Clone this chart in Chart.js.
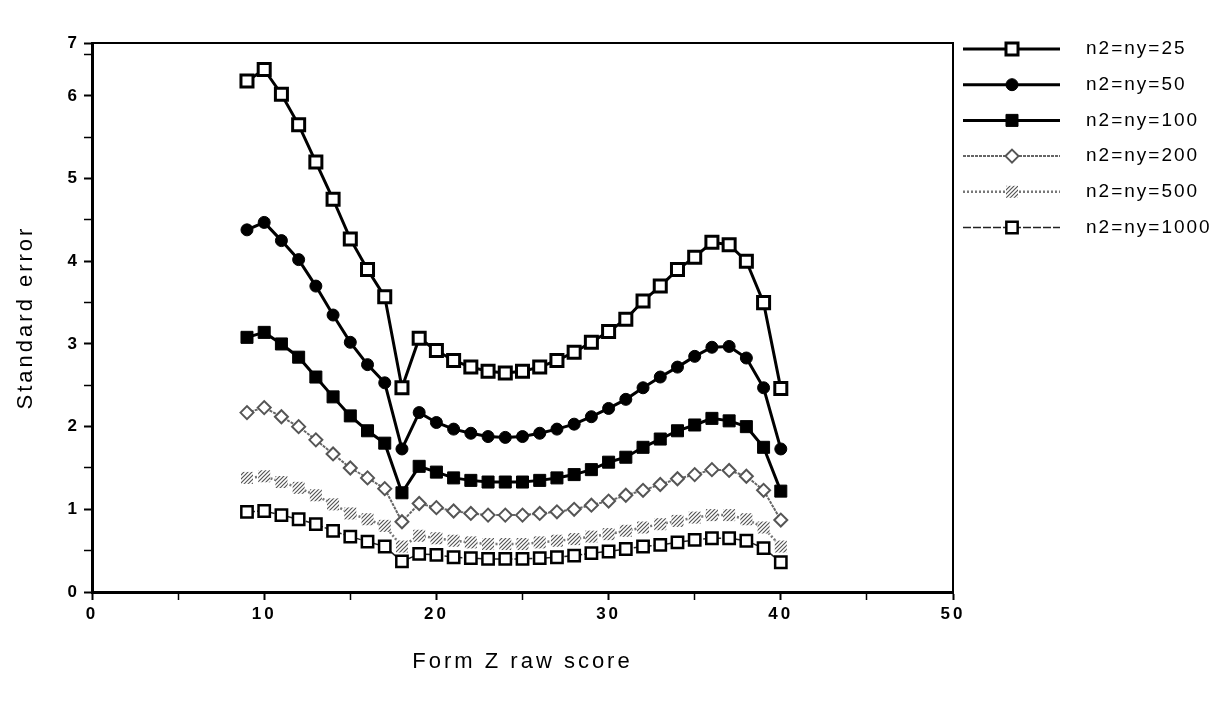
<!DOCTYPE html>
<html>
<head>
<meta charset="utf-8">
<script src="https://cdn.jsdelivr.net/npm/chart.js@4/dist/chart.umd.min.js"></script>
<style>
  body { margin: 0; background: #fff; }
  #wrap { width: 1221px; height: 707px; }
</style>
</head>
<body>
<div id="wrap"><canvas id="seChart" width="1221" height="707"></canvas></div>
<script>
// raw scores on form Z
const rawScores = [9, 10, 11, 12, 13, 14, 15, 16, 17, 18, 19, 20, 21, 22, 23, 24,
                   25, 26, 27, 28, 29, 30, 31, 32, 33, 34, 35, 36, 37, 38, 39, 40];

const seriesNames = ['n2=ny=25', 'n2=ny=50', 'n2=ny=100', 'n2=ny=200', 'n2=ny=500', 'n2=ny=1000'];

// standard error for each sample size
const se25 = [6.18, 6.32, 6.02, 5.65, 5.20, 4.75, 4.27, 3.90, 3.57, 2.47, 3.07, 2.92, 2.80, 2.72, 2.67, 2.65,
              2.67, 2.72, 2.80, 2.90, 3.02, 3.15, 3.30, 3.52, 3.70, 3.90, 4.05, 4.23, 4.20, 4.00, 3.50, 2.46];
const se50 = [4.38, 4.47, 4.25, 4.02, 3.70, 3.35, 3.02, 2.75, 2.53, 1.73, 2.17, 2.05, 1.97, 1.92, 1.88, 1.87,
              1.88, 1.92, 1.97, 2.03, 2.12, 2.22, 2.33, 2.47, 2.60, 2.72, 2.85, 2.96, 2.97, 2.83, 2.47, 1.73];
const se100 = [3.08, 3.14, 3.00, 2.84, 2.60, 2.36, 2.13, 1.95, 1.80, 1.20, 1.52, 1.45, 1.38, 1.35, 1.33, 1.33,
               1.33, 1.35, 1.38, 1.42, 1.48, 1.57, 1.63, 1.75, 1.85, 1.95, 2.02, 2.10, 2.07, 2.00, 1.75, 1.22];
const se200 = [2.17, 2.23, 2.12, 2.00, 1.84, 1.67, 1.50, 1.38, 1.25, 0.85, 1.07, 1.02, 0.98, 0.95, 0.93, 0.93,
               0.93, 0.95, 0.97, 1.00, 1.05, 1.10, 1.17, 1.23, 1.30, 1.37, 1.42, 1.48, 1.47, 1.40, 1.23, 0.87];
const se500 = [1.38, 1.40, 1.33, 1.26, 1.17, 1.06, 0.95, 0.88, 0.80, 0.55, 0.68, 0.65, 0.62, 0.60, 0.58, 0.58,
               0.58, 0.60, 0.62, 0.64, 0.67, 0.70, 0.74, 0.78, 0.82, 0.86, 0.90, 0.93, 0.93, 0.88, 0.78, 0.55];
const se1000 = [0.97, 0.98, 0.93, 0.88, 0.82, 0.74, 0.67, 0.61, 0.55, 0.37, 0.46, 0.45, 0.42, 0.41, 0.40, 0.40,
                0.40, 0.41, 0.42, 0.44, 0.47, 0.49, 0.52, 0.55, 0.57, 0.60, 0.63, 0.65, 0.65, 0.62, 0.53, 0.36];

// y axis: ticks every 0.5, labels on whole numbers; the frame stops a bit under 7
// but the printout still writes "7" at its top edge
const yTicks = [0, 0.5, 1, 1.5, 2, 2.5, 3, 3.5, 4, 4.5, 5, 5.5, 6, 6.5];
const yLabels = ['0', '1', '2', '3', '4', '5', '6'];
const yTop = 6.64;
const yTopLabel = '7';

// hatched grey fill for the n=500 markers
function hatch() {
    const c = document.createElement('canvas');
    c.width = 4; c.height = 4;
    const g = c.getContext('2d');
    g.fillStyle = '#fff';
    g.fillRect(0, 0, 4, 4);
    g.strokeStyle = '#555';
    g.lineWidth = 1.2;
    g.beginPath();
    g.moveTo(0, 4); g.lineTo(4, 0);
    g.moveTo(-1, 1); g.lineTo(1, -1);
    g.moveTo(3, 5); g.lineTo(5, 3);
    g.stroke();
    return g.createPattern(c, 'repeat');
}
const hatchFill = hatch();

function toPoints(vals) {
    return vals.map((v, i) => ({ x: rawScores[i], y: v }));
}

const datasets = [
    { label: seriesNames[0], data: toPoints(se25), borderColor: '#000', borderWidth: 3,
      pointStyle: 'rect', pointRadius: 8.5, pointBackgroundColor: '#fff', pointBorderColor: '#000', pointBorderWidth: 3 },
    { label: seriesNames[1], data: toPoints(se50), borderColor: '#000', borderWidth: 3,
      pointStyle: 'circle', pointRadius: 6, pointBackgroundColor: '#000', pointBorderColor: '#000', pointBorderWidth: 1 },
    { label: seriesNames[2], data: toPoints(se100), borderColor: '#000', borderWidth: 3,
      pointStyle: 'rect', pointRadius: 8.5, pointBackgroundColor: '#000', pointBorderColor: '#000', pointBorderWidth: 1 },
    { label: seriesNames[3], data: toPoints(se200), borderColor: '#666', borderWidth: 2, borderDash: [3, 1],
      pointStyle: 'rectRot', pointRadius: 6.5, pointBackgroundColor: '#fff', pointBorderColor: '#555', pointBorderWidth: 2 },
    { label: seriesNames[4], data: toPoints(se500), borderColor: '#777', borderWidth: 2.5, borderDash: [2, 2],
      pointStyle: 'rect', pointRadius: 8.5, pointBackgroundColor: hatchFill, pointBorderColor: 'rgba(0,0,0,0)', pointBorderWidth: 0 },
    { label: seriesNames[5], data: toPoints(se1000), borderColor: '#222', borderWidth: 1.5, borderDash: [8, 2],
      pointStyle: 'rect', pointRadius: 8, pointBackgroundColor: '#fff', pointBorderColor: '#000', pointBorderWidth: 2.5 }
];

const tickFont = { family: '"Liberation Sans", Arial, sans-serif', size: 17, weight: 'bold' };
const titleFont = { family: '"Liberation Sans", Arial, sans-serif', size: 22 };

// spacing between letters, like the old printout
const spacing = {
    id: 'spacing',
    beforeDraw(chart) { chart.ctx.letterSpacing = '3px'; }
};

// frame on top and right side
const frame = {
    id: 'frame',
    afterDatasetsDraw(chart) {
        const { ctx, chartArea: a } = chart;
        ctx.save();
        ctx.strokeStyle = '#000';
        ctx.lineWidth = 2;
        ctx.beginPath();
        ctx.moveTo(a.left, a.top);
        ctx.lineTo(a.right, a.top);
        ctx.lineTo(a.right, a.bottom);
        ctx.stroke();
        ctx.restore();
    }
};

function marker(ctx, ds, x, y) {
    const r = ds.pointRadius;
    ctx.fillStyle = ds.pointBackgroundColor;
    ctx.strokeStyle = ds.pointBorderColor;
    ctx.lineWidth = ds.pointBorderWidth;
    ctx.setLineDash([]);
    ctx.beginPath();
    if (ds.pointStyle === 'circle') {
        ctx.arc(x, y, r, 0, Math.PI * 2);
    } else if (ds.pointStyle === 'rectRot') {
        ctx.moveTo(x, y - r); ctx.lineTo(x + r, y); ctx.lineTo(x, y + r); ctx.lineTo(x - r, y); ctx.closePath();
    } else {
        const s = r * Math.SQRT1_2;
        ctx.rect(x - s, y - s, 2 * s, 2 * s);
    }
    ctx.fill();
    if (ds.pointBorderWidth > 0) ctx.stroke();
}

// legend on the right: line sample with marker, then the name
const sideLegend = {
    id: 'sideLegend',
    afterDraw(chart) {
        const ctx = chart.ctx;
        ctx.save();
        chart.data.datasets.forEach((ds, i) => {
            const y = 49 + i * 35.7;
            ctx.strokeStyle = ds.borderColor;
            ctx.lineWidth = ds.borderWidth;
            ctx.setLineDash(ds.borderDash || []);
            ctx.beginPath();
            ctx.moveTo(963, y);
            ctx.lineTo(1060, y);
            ctx.stroke();
            marker(ctx, ds, 1012, y);
            ctx.fillStyle = '#000';
            ctx.letterSpacing = '2px';
            ctx.font = '19px "Liberation Sans", Arial, sans-serif';
            ctx.textBaseline = 'middle';
            ctx.textAlign = 'left';
            ctx.fillText(ds.label, 1086, y);
        });
        ctx.restore();
    }
};

new Chart(document.getElementById('seChart'), {
    type: 'line',
    data: { datasets: datasets },
    options: {
        responsive: false,
        animation: false,
        layout: { padding: { top: 43, right: 268, left: 0, bottom: 0 } },
        plugins: { legend: { display: false }, tooltip: { enabled: false } },
        scales: {
            x: {
                type: 'linear',
                min: 0, max: 50,
                afterFit: s => { s.height = 115; },
                ticks: {
                    stepSize: 5,
                    color: '#000',
                    font: tickFont,
                    padding: 4,
                    maxRotation: 0,
                    callback: v => (v % 10 === 0 ? String(v) : '')
                },
                grid: { drawOnChartArea: false, color: '#000', tickLength: 8,
                        tickWidth: c => (c.tick && c.tick.value % 10 === 0 ? 2 : 1.5) },
                border: { display: true, color: '#000', width: 3 },
                title: { display: true, text: 'Form Z raw score', color: '#000', font: titleFont,
                         padding: { top: 0, bottom: 32 } }
            },
            y: {
                min: 0, max: yTop,
                afterFit: s => { s.width = 92; },
                afterBuildTicks: s => { s.ticks = yTicks.concat([yTop]).map(v => ({ value: v })); },
                ticks: {
                    color: '#000',
                    font: tickFont,
                    padding: 4,
                    callback: v => (v === yTop ? yTopLabel : (Number.isInteger(v) ? yLabels[v] : ''))
                },
                grid: { drawOnChartArea: false, color: '#000', tickLength: 8,
                        tickWidth: c => (c.tick && (Number.isInteger(c.tick.value) || c.tick.value === yTop) ? 2 : 1.5) },
                border: { display: true, color: '#000', width: 3 },
                title: { display: true, text: 'Standard error', color: '#000', font: titleFont,
                         padding: { top: 13, bottom: 0 } }
            }
        }
    },
    plugins: [spacing, frame, sideLegend]
});
</script>
</body>
</html>
